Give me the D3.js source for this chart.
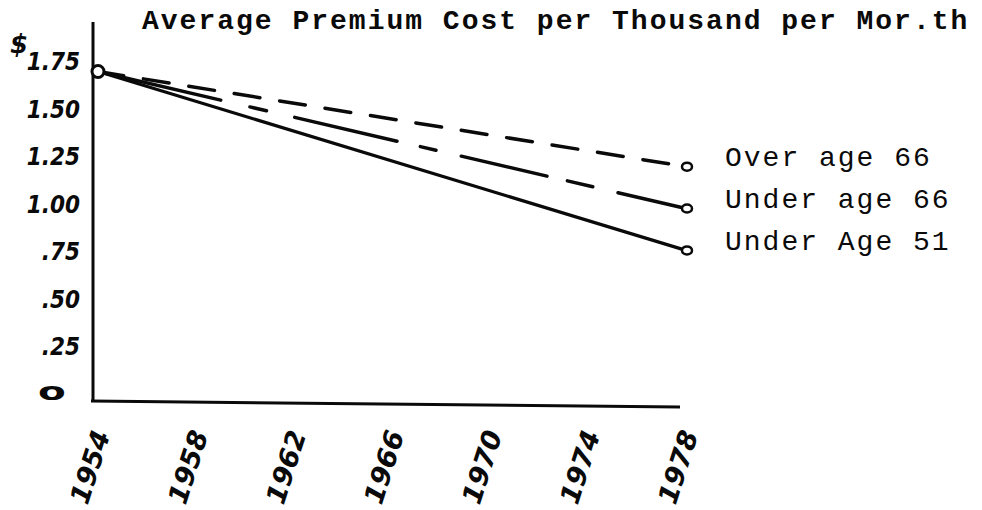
<!DOCTYPE html>
<html>
<head>
<meta charset="utf-8">
<script src="https://cdn.jsdelivr.net/npm/d3@7"></script>
<style>
  html, body { margin: 0; padding: 0; background: #fff; }
  svg { display: block; }
</style>
</head>
<body>
<svg id="chart" width="982" height="510"></svg>
<script>
// ---- data ----
const years = [1954, 1978];
const yearTicks = [1954, 1958, 1962, 1966, 1970, 1974, 1978];
const yTicks = [0, 0.25, 0.50, 0.75, 1.00, 1.25, 1.50, 1.75];
const yTickLabels = ["o", ".25", ".50", ".75", "1.00", "1.25", "1.50", "1.75"];
const seriesNames = ["Over age 66", "Under age 66", "Under Age 51"];
const overAge66 = [1.70, 1.20];
const underAge66 = [1.70, 0.98];
const underAge51 = [1.70, 0.76];
const title = "Average Premium Cost per Thousand per Mor.th";

// ---- layout ----
const svg = d3.select("#chart");
const x = d3.scaleLinear().domain([1954, 1978]).range([98, 686]);
const y = d3.scaleLinear().domain([0, 1.75]).range([395, 62]);

const ink = "#0a0a0a";

// title
svg.append("text")
  .attr("x", 142).attr("y", 29)
  .attr("font-family", "'Liberation Mono', 'Courier New', monospace")
  .attr("font-weight", "bold")
  .attr("font-size", 28)
  .attr("letter-spacing", 2)
  .attr("fill", ink)
  .text(title);

// axes (hand-drawn look)
svg.append("line")
  .attr("x1", 93).attr("y1", 22).attr("x2", 93).attr("y2", 402)
  .attr("stroke", ink).attr("stroke-width", 3);
svg.append("line")
  .attr("x1", 91).attr("y1", 401).attr("x2", 680).attr("y2", 407)
  .attr("stroke", ink).attr("stroke-width", 3);

// y tick labels
const yLab = svg.append("g")
  .attr("font-family", "'DejaVu Sans Condensed', 'DejaVu Sans', sans-serif")
  .attr("font-style", "italic")
  .attr("font-weight", "bold")
  .attr("font-size", 24)
  .attr("fill", ink);
yLab.selectAll("text").data(yTicks).join("text")
  .attr("transform", d => d === 0
      ? `translate(52,${y(d) - 4}) scale(1.5,0.85)`
      : `translate(80,${y(d)})`)
  .attr("text-anchor", d => d === 0 ? "middle" : "end")
  .attr("dominant-baseline", "central")
  .attr("font-size", d => d === 0 ? 30 : 24)
  .attr("font-style", d => d === 0 ? "normal" : "italic")
  .text((d, i) => yTickLabels[i]);

// dollar sign
svg.append("text")
  .attr("x", 19).attr("y", 44)
  .attr("text-anchor", "middle").attr("dominant-baseline", "central")
  .attr("font-family", "'DejaVu Sans', sans-serif")
  .attr("font-weight", "bold").attr("font-style", "italic")
  .attr("font-size", 26).attr("fill", ink)
  .text("$");

// x tick labels
const xLab = svg.append("g")
  .attr("font-family", "'DejaVu Sans', sans-serif")
  .attr("font-style", "italic")
  .attr("font-weight", "bold")
  .attr("font-size", 27)
  .attr("fill", ink);
xLab.selectAll("text").data(yearTicks).join("text")
  .attr("transform", d => `translate(${x(d) - 8},${467}) rotate(-72)`)
  .attr("text-anchor", "middle")
  .attr("dominant-baseline", "central")
  .text(d => d);

// lines
const line = d3.line().x((d, i) => x(years[i])).y(d => y(d));
const seriesData = [underAge51, underAge66, overAge66];
const dashes = [null, "126,30,17,29,105,24,16,26,88,21,26,26,80", "26,20"];
const widths = [3.2, 3.5, 3.5];
svg.append("g").selectAll("path").data(seriesData).join("path")
  .attr("d", d => line(d))
  .attr("fill", "none")
  .attr("stroke", ink)
  .attr("stroke-width", (d, i) => widths[i])
  .attr("stroke-linecap", "round")
  .attr("stroke-dasharray", (d, i) => dashes[i]);

// end circles
svg.append("g").selectAll("ellipse").data(seriesData).join("ellipse")
  .attr("cx", x(years[1]) + 1)
  .attr("cy", d => y(d[1]))
  .attr("rx", 5).attr("ry", 4)
  .attr("fill", "#fff").attr("stroke", ink).attr("stroke-width", 2.5);
// start circle
svg.append("circle")
  .attr("cx", x(years[0])).attr("cy", y(overAge66[0]))
  .attr("r", 6)
  .attr("fill", "#fff").attr("stroke", ink).attr("stroke-width", 3);

// legend labels at line ends
const legendVals = [overAge66[1], underAge66[1], underAge51[1]];
svg.append("g")
  .attr("font-family", "'Liberation Mono', 'Courier New', monospace")
  .attr("font-size", 28)
  .attr("letter-spacing", 2)
  .attr("fill", ink)
  .selectAll("text").data(seriesNames).join("text")
  .attr("x", 725)
  .attr("y", (d, i) => y(legendVals[i]) - 8)
  .attr("dominant-baseline", "central")
  .text(d => d);
</script>
</body>
</html>
